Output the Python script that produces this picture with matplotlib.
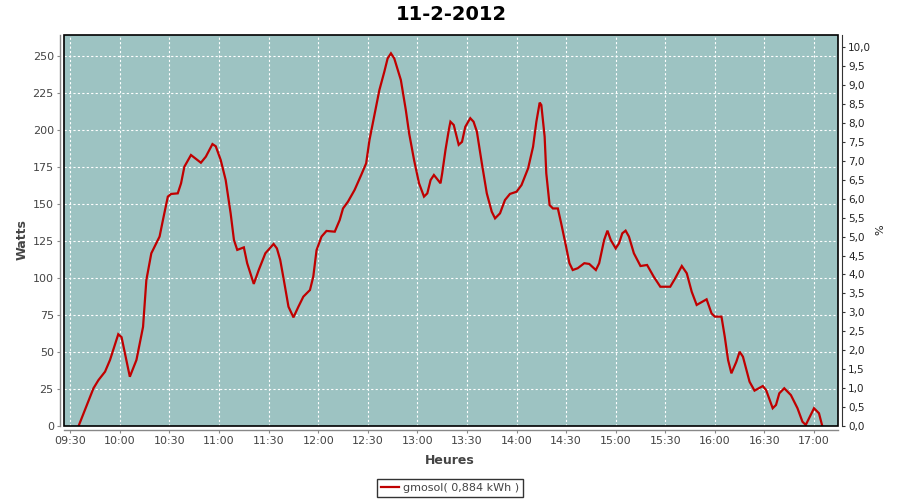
import matplotlib
matplotlib.use("Agg")
import matplotlib.pyplot as plt
import matplotlib.dates as mdates
from matplotlib.patches import Rectangle
from matplotlib.ticker import MultipleLocator, FuncFormatter
import pandas as pd

#######################################################
DAY = "2012-02-11"
TITLE = "11-2-2012"
SERIES_LABEL = "gmosol( 0,884 kWh )"

times = [
    "09:35", "09:44", "09:47", "09:51", "09:54", "09:59", "10:01", "10:06",
    "10:10", "10:14", "10:16", "10:19", "10:24", "10:26", "10:29", "10:31",
    "10:35", "10:37", "10:39", "10:43", "10:49", "10:52", "10:56", "10:58",
    "11:01", "11:04", "11:07", "11:09", "11:11", "11:15", "11:17", "11:21",
    "11:24", "11:28", "11:33", "11:35", "11:37", "11:39", "11:42", "11:45",
    "11:48", "11:51", "11:55", "11:57", "11:59", "12:02", "12:05", "12:10",
    "12:13", "12:15", "12:18", "12:22", "12:26", "12:29", "12:31", "12:34",
    "12:37", "12:40", "12:42", "12:44", "12:46", "12:50", "12:53", "12:55",
    "12:58", "13:01", "13:04", "13:06", "13:08", "13:10", "13:14", "13:15",
    "13:17", "13:19", "13:20", "13:22", "13:25", "13:27", "13:29", "13:32",
    "13:34", "13:36", "13:39", "13:42", "13:45", "13:47", "13:50", "13:53",
    "13:56", "14:00", "14:03", "14:07", "14:10", "14:12", "14:14", "14:15",
    "14:17", "14:18", "14:20", "14:22", "14:25", "14:27", "14:30", "14:32",
    "14:34", "14:37", "14:41", "14:44", "14:48", "14:50", "14:53", "14:55",
    "14:57", "15:00", "15:02", "15:04", "15:06", "15:08", "15:11", "15:15",
    "15:19", "15:23", "15:27", "15:33", "15:36", "15:40", "15:43", "15:46",
    "15:49", "15:55", "15:58", "16:00", "16:04", "16:06", "16:08", "16:10",
    "16:13", "16:15", "16:17", "16:21", "16:24", "16:29", "16:31", "16:35",
    "16:37", "16:39", "16:42", "16:46", "16:50", "16:53", "16:55", "16:58",
    "17:00", "17:03", "17:05",
]

watts = [
    0.0, 25.5, 31.0, 36.7, 44.6, 62.0, 60.0, 33.3,
    44.6, 67.0, 98.6, 116.7, 128.0, 139.0, 155.0, 156.8,
    157.2, 164.0, 175.2, 183.1, 177.9, 182.0, 190.5, 189.0,
    179.7, 166.2, 143.7, 125.7, 119.0, 120.7, 110.0, 96.0,
    105.4, 116.7, 123.0, 120.0, 112.2, 99.8, 80.6, 73.4,
    80.6, 87.4, 91.9, 100.9, 118.9, 128.0, 131.8, 131.3,
    139.2, 147.0, 151.6, 159.5, 169.6, 177.5, 193.2, 210.0,
    227.0, 239.4, 248.4, 251.8, 248.4, 233.8, 213.5, 197.8,
    179.7, 164.0, 155.0, 157.2, 166.2, 169.6, 164.0, 170.7,
    186.5, 200.0, 205.6, 203.4, 190.0, 192.0, 202.2, 208.0,
    205.6, 198.9, 177.5, 157.2, 144.8, 140.3, 143.7, 152.7,
    156.8, 158.3, 162.8, 174.1, 188.7, 205.6, 218.5, 216.9,
    195.5, 170.7, 149.3, 147.0, 147.0, 137.0, 121.1, 110.0,
    105.4, 106.6, 110.0, 109.5, 105.4, 110.0, 125.7, 132.0,
    125.7, 120.0, 123.4, 130.2, 132.0, 128.0, 116.7, 108.1,
    108.8, 100.9, 94.1, 94.1, 99.8, 108.1, 103.2, 90.7,
    81.8, 85.6, 76.1, 73.9, 73.9, 60.3, 44.6, 35.6,
    43.4, 50.2, 46.8, 29.9, 23.9, 27.0, 24.3, 12.0,
    14.2, 22.1, 25.5, 20.9, 12.0, 2.9, 0.7, 7.4,
    12.0, 8.6, 0.0,
]

X_START = "09:26:10"
X_END = "17:14:20"
WATTS_MAX = 264.2
PCT_MAX = 10.32
#########################################################

BG = "#9dc3c2"
RED = "#c00000"
GREY = "#444444"
PX = 72 / 100  # one pixel in points at dpi 100

x = pd.to_datetime([f"{DAY} {t}" for t in times])

fig = plt.figure(figsize=(9, 5), dpi=100)
ax = fig.add_axes([64 / 900, 74 / 500, 773.7 / 900, 391 / 500])
ax.set_facecolor(BG)

line, = ax.plot(x, watts, color=RED, lw=1.6, solid_joinstyle="miter", zorder=3)

ax.set_xlim(pd.Timestamp(f"{DAY} {X_START}"), pd.Timestamp(f"{DAY} {X_END}"))
ax.set_ylim(0, WATTS_MAX)
ax.xaxis.set_major_locator(mdates.MinuteLocator(byminute=[0, 30]))
ax.xaxis.set_major_formatter(mdates.DateFormatter("%H:%M"))
ax.yaxis.set_major_locator(MultipleLocator(25))

ax.grid(True, color="white", lw=0.8, linestyle=(0, (2, 2)))
ax.set_axisbelow(True)

for side in ["top", "right"]:
    ax.spines[side].set_visible(False)
for side in ["left", "bottom"]:
    ax.spines[side].set_position(("outward", 4 * PX))
    ax.spines[side].set_color("#888888")
    ax.spines[side].set_linewidth(1)
ax.tick_params(axis="both", direction="out", length=2.5, width=0.8,
               color="#888888", labelsize=8, labelcolor=GREY, pad=2)

ax.add_patch(Rectangle((0, 0), 1, 1, transform=ax.transAxes, fill=False,
                       edgecolor="black", lw=1.2, clip_on=False, zorder=5))

ax2 = ax.twinx()
ax2.set_ylim(0, PCT_MAX)
ax2.yaxis.set_major_locator(MultipleLocator(0.5))
ax2.yaxis.set_major_formatter(FuncFormatter(lambda v, p: f"{v:.1f}".replace(".", ",")))
for side in ["top", "left", "bottom"]:
    ax2.spines[side].set_visible(False)
ax2.spines["right"].set_position(("outward", 4 * PX))
ax2.spines["right"].set_color("#333333")
ax2.tick_params(axis="y", direction="out", length=2.5, width=0.8,
                color="#333333", labelsize=7.5, labelcolor="#222222", pad=2)

fig.text(451 / 900, 1 - 14 / 500, TITLE, ha="center", va="center",
         fontsize=14, fontweight="bold", color="black")
fig.text(22 / 900, 1 - 240 / 500, "Watts", ha="center", va="center",
         rotation=90, fontsize=9, fontweight="bold", color=GREY)
fig.text(450 / 900, 1 - 460 / 500, "Heures", ha="center", va="center",
         fontsize=9, fontweight="bold", color=GREY)
fig.text(880 / 900, 1 - 230 / 500, "%", ha="center", va="center",
         rotation=90, fontsize=8, color="#222222")

leg = fig.legend([line], [SERIES_LABEL], loc="center",
                 bbox_to_anchor=(450 / 900, 1 - 488 / 500),
                 fontsize=8, frameon=True, fancybox=False, handlelength=1.6,
                 handletextpad=0.4, borderpad=0.35, borderaxespad=0)
leg.get_frame().set_edgecolor("black")
leg.get_frame().set_linewidth(1)
for txt in leg.get_texts():
    txt.set_color(GREY)

fig.savefig("out.png", dpi=100)
